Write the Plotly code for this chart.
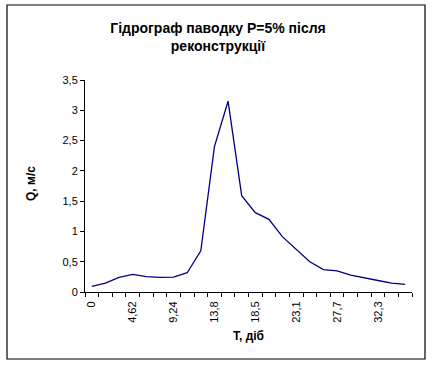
import plotly.graph_objects as go

# Data
days = [0, 1.54, 3.08, 4.62, 6.16, 7.70, 9.24, 10.78, 12.32, 13.86, 15.40, 16.94,
        18.48, 20.02, 21.56, 23.10, 24.64, 26.18, 27.72, 29.26, 30.80, 32.34, 33.88, 35.42]
discharge = [0.094, 0.148, 0.242, 0.29, 0.253, 0.242, 0.247, 0.318, 0.68, 2.40, 3.15, 1.59,
             1.31, 1.20, 0.91, 0.70, 0.50, 0.37, 0.35, 0.28, 0.23, 0.19, 0.148, 0.127]
x_tick_vals = [0, 4.62, 9.24, 13.86, 18.48, 23.10, 27.72, 32.34]
x_tick_text = ["0", "4,62", "9,24", "13,8", "18,5", "23,1", "27,7", "32,3"]
y_tick_vals = [0, 0.5, 1, 1.5, 2, 2.5, 3, 3.5]
y_tick_text = ["0", "0,5", "1", "1,5", "2", "2,5", "3", "3,5"]

step = days[1] - days[0]
boundaries = [d - step / 2 for d in days] + [days[-1] + step / 2]

W, H = 433, 366
L, R, T, B = 85, 21, 80, 74
pw, ph = W - L - R, H - T - B

def px_x(x):
    return (x - L) / pw

def px_y(y):
    return (H - B - y) / ph

fig = go.Figure()
fig.add_trace(go.Scatter(x=days, y=discharge, mode="lines",
                         line=dict(color="#000080", width=1.3),
                         hoverinfo="x+y", showlegend=False))

font = "Liberation Sans, Arial, sans-serif"
fig.update_layout(
    width=W, height=H,
    margin=dict(l=L, r=R, t=T, b=B),
    paper_bgcolor="white", plot_bgcolor="white",
    font=dict(family=font, size=11, color="black"),
    title=dict(text="<b>Гідрограф паводку P=5% після<br>реконструкції</b>",
               x=218 / W, xanchor="center", y=1 - 33 / H, yanchor="middle",
               font=dict(family=font, size=14, color="black")),
    xaxis=dict(range=[boundaries[0], boundaries[-1]], showgrid=False, zeroline=False,
               showline=True, linecolor="black", linewidth=1,
               tickmode="array", tickvals=x_tick_vals, ticktext=x_tick_text,
               tickangle=-90, ticks="outside", ticklen=4, tickcolor="rgba(0,0,0,0)",
               tickfont=dict(size=11, color="black"),
               minor=dict(tickmode="array", tickvals=boundaries, ticks="outside",
                          ticklen=4, tickcolor="black", showgrid=False)),
    yaxis=dict(range=[0, 3.5], showgrid=False, zeroline=False,
               showline=True, linecolor="black", linewidth=1,
               tickmode="array", tickvals=y_tick_vals, ticktext=y_tick_text,
               ticks="outside", ticklen=4, tickcolor="black",
               tickfont=dict(size=11, color="black")),
    annotations=[
        dict(text="<b>Q, м/с</b>", xref="paper", yref="paper",
             x=px_x(31), y=px_y(184), textangle=-90, showarrow=False,
             xanchor="center", yanchor="middle",
             font=dict(family=font, size=12, color="black")),
        dict(text="<b>T, діб</b>", xref="paper", yref="paper",
             x=px_x(249), y=px_y(336), showarrow=False,
             xanchor="center", yanchor="middle",
             font=dict(family=font, size=12, color="black")),
    ],
    shapes=[dict(type="rect", xref="paper", yref="paper",
                 x0=px_x(7), x1=px_x(425), y0=px_y(359), y1=px_y(5),
                 line=dict(color="black", width=1.2), fillcolor="rgba(0,0,0,0)",
                 layer="below")],
)

fig.write_html("out.html", config={"displayModeBar": False},
               post_script="document.body.style.margin='0';")
